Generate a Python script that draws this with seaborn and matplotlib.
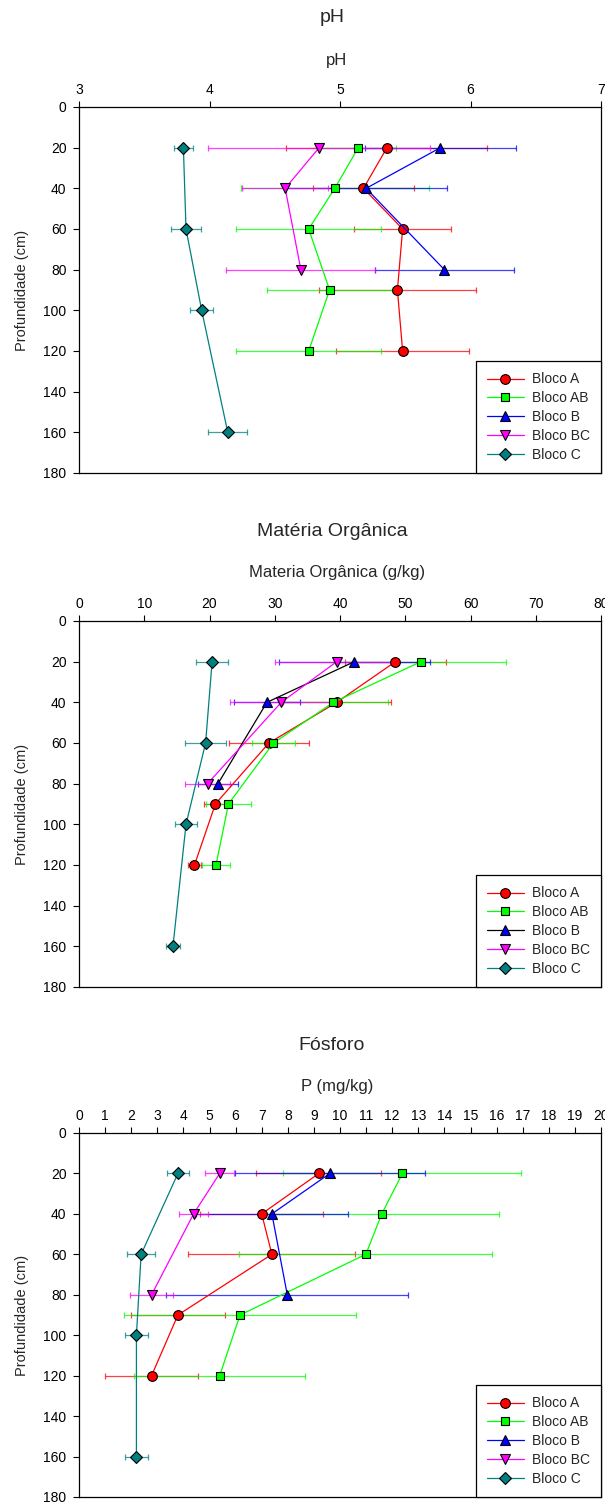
import matplotlib
matplotlib.use("Agg")
import matplotlib.pyplot as plt
import seaborn as sns

# ---------------- data ----------------
blocks = ["Bloco A", "Bloco AB", "Bloco B", "Bloco BC", "Bloco C"]

depth_A = [20, 40, 60, 90, 120]
depth_AB = [20, 40, 60, 90, 120]
depth_B = [20, 40, 80]
depth_BC = [20, 40, 80]
depth_C = [20, 60, 100, 160]

# pH
ph_A = [5.36, 5.18, 5.48, 5.44, 5.48]
ph_A_err = [0.77, 0.39, 0.37, 0.60, 0.51]
ph_AB = [5.14, 4.96, 4.76, 4.92, 4.76]
ph_AB_err = [0.29, 0.72, 0.555, 0.48, 0.555]
ph_B = [5.77, 5.20, 5.80]
ph_B_err = [0.575, 0.62, 0.53]
ph_BC = [4.84, 4.58, 4.70]
ph_BC_err = [0.85, 0.33, 0.57]
ph_C = [3.80, 3.82, 3.94, 4.14]
ph_C_err = [0.072, 0.113, 0.09, 0.15]

# Materia organica (g/kg)
mo_A = [48.5, 39.5, 29.1, 20.9, 17.7]
mo_A_err = [7.7, 8.3, 6.1, 1.7, 1.0]
mo_AB = [52.4, 39.0, 29.8, 22.9, 21.0]
mo_AB_err = [13.1, 8.4, 3.3, 3.5, 2.2]
mo_B = [42.2, 28.8, 21.3]
mo_B_err = [11.6, 5.1, 3.0]
mo_BC = [39.5, 31.0, 19.7]
mo_BC_err = [9.5, 7.8, 3.5]
mo_C = [20.4, 19.4, 16.4, 14.4]
mo_C_err = [2.5, 3.2, 1.7, 1.1]

# Fosforo P (mg/kg)
p_A = [9.19, 7.00, 7.39, 3.79, 2.78]
p_A_err = [2.4, 2.35, 3.2, 1.79, 1.79]
p_AB = [12.39, 11.60, 10.99, 6.17, 5.39]
p_AB_err = [4.56, 4.5, 4.85, 4.43, 3.27]
p_B = [9.61, 7.39, 7.98]
p_B_err = [3.65, 2.9, 4.63]
p_BC = [5.39, 4.39, 2.78]
p_BC_err = [0.55, 0.55, 0.83]
p_C = [3.79, 2.38, 2.20, 2.20]
p_C_err = [0.43, 0.54, 0.45, 0.45]

panel_titles = ["pH", "Matéria Orgânica", "Fósforo"]
panel_xlabels = ["pH", "Materia Orgânica (g/kg)", "P (mg/kg)"]
panel_xticks = [[3, 4, 5, 6, 7],
                [0, 10, 20, 30, 40, 50, 60, 70, 80],
                list(range(0, 21))]
depth_ticks = [0, 20, 40, 60, 80, 100, 120, 140, 160, 180]
ylabel = "Profundidade (cm)"

# ---------------- style ----------------
sns.set_style("white")
plt.rcParams["font.family"] = ["Liberation Sans", "DejaVu Sans"]

colors = {"Bloco A": "#FF0000", "Bloco AB": "#00FF00", "Bloco B": "#0000FF",
          "Bloco BC": "#FF00FF", "Bloco C": "#008080"}
markers = {"Bloco A": "o", "Bloco AB": "s", "Bloco B": "^",
           "Bloco BC": "v", "Bloco C": "D"}
msizes = {"Bloco A": 7, "Bloco AB": 6.2, "Bloco B": 7, "Bloco BC": 7, "Bloco C": 6}

depths = {"Bloco A": depth_A, "Bloco AB": depth_AB, "Bloco B": depth_B,
          "Bloco BC": depth_BC, "Bloco C": depth_C}
panels = [
    ({"Bloco A": ph_A, "Bloco AB": ph_AB, "Bloco B": ph_B, "Bloco BC": ph_BC, "Bloco C": ph_C},
     {"Bloco A": ph_A_err, "Bloco AB": ph_AB_err, "Bloco B": ph_B_err, "Bloco BC": ph_BC_err, "Bloco C": ph_C_err},
     {}),
    ({"Bloco A": mo_A, "Bloco AB": mo_AB, "Bloco B": mo_B, "Bloco BC": mo_BC, "Bloco C": mo_C},
     {"Bloco A": mo_A_err, "Bloco AB": mo_AB_err, "Bloco B": mo_B_err, "Bloco BC": mo_BC_err, "Bloco C": mo_C_err},
     {"Bloco B": "#000000"}),
    ({"Bloco A": p_A, "Bloco AB": p_AB, "Bloco B": p_B, "Bloco BC": p_BC, "Bloco C": p_C},
     {"Bloco A": p_A_err, "Bloco AB": p_AB_err, "Bloco B": p_B_err, "Bloco BC": p_BC_err, "Bloco C": p_C_err},
     {}),
]

W, H = 605, 1506
fig = plt.figure(figsize=(W / 100, H / 100), dpi=100)

left_px, right_px = 79, 601
tops = [107, 621, 1133]
bottoms = [473, 987, 1497]
title_y = [18, 532, 1046]
xlabel_y = [61, 573, 1087]

for i, (vals, errs, line_override) in enumerate(panels):
    t, b = tops[i], bottoms[i]
    ax = fig.add_axes([left_px / W, 1 - b / H, (right_px - left_px) / W, (b - t) / H])

    # error bars
    for name in blocks:
        ax.errorbar(vals[name], depths[name], xerr=errs[name], fmt="none",
                    ecolor=colors[name], elinewidth=0.9, capsize=2.5,
                    capthick=0.9, alpha=0.75, zorder=2)
    # lines + markers
    handles = []
    for name in blocks:
        sns.lineplot(x=vals[name], y=depths[name], orient="y", sort=False,
                     estimator=None, ax=ax,
                     color=line_override.get(name, colors[name]),
                     marker=markers[name], markersize=msizes[name],
                     markerfacecolor=colors[name], markeredgecolor="black",
                     markeredgewidth=0.8, linewidth=0.9, zorder=3)
        line = ax.lines[-1]
        line.set_label(name)
        handles.append(line)

    xt = panel_xticks[i]
    ax.set_xlim(xt[0], xt[-1])
    ax.set_xticks(xt)
    ax.set_ylim(180, 0)
    ax.set_yticks(depth_ticks)
    ax.xaxis.tick_top()
    ax.xaxis.set_label_position("top")
    ax.tick_params(axis="both", direction="out", length=4, width=0.8,
                   colors="black", labelsize=10)
    ax.tick_params(axis="x", pad=3)
    ax.tick_params(axis="y", pad=5)
    ax.tick_params(left=True, top=True, bottom=False, right=False)
    for sp in ax.spines.values():
        sp.set_visible(True)
        sp.set_color("black")
        sp.set_linewidth(0.9)

    ax.set_xlabel(panel_xlabels[i], fontsize=12)
    ax.xaxis.label.set_va("center")
    ax.xaxis.set_label_coords((337 - left_px) / (right_px - left_px),
                              1 + (t - xlabel_y[i]) / (b - t))
    ax.set_ylabel(ylabel, fontsize=10.5)
    ax.yaxis.label.set_va("center")
    ax.yaxis.set_label_coords((22 - left_px) / (right_px - left_px), 0.5)

    ax.text((332 - left_px) / (right_px - left_px), 1 + (t - title_y[i]) / (b - t),
            panel_titles[i], transform=ax.transAxes, ha="center", va="center",
            fontsize=14)

    leg = ax.legend(handles=handles, loc="lower right", bbox_to_anchor=(1, 0),
                    borderaxespad=0, frameon=True, fancybox=False,
                    edgecolor="black", framealpha=1, fontsize=10,
                    handlelength=2.6, handletextpad=0.6, labelspacing=0.35,
                    borderpad=0.8)
    leg.get_frame().set_linewidth(0.9)

fig.savefig("out.png", dpi=100)
